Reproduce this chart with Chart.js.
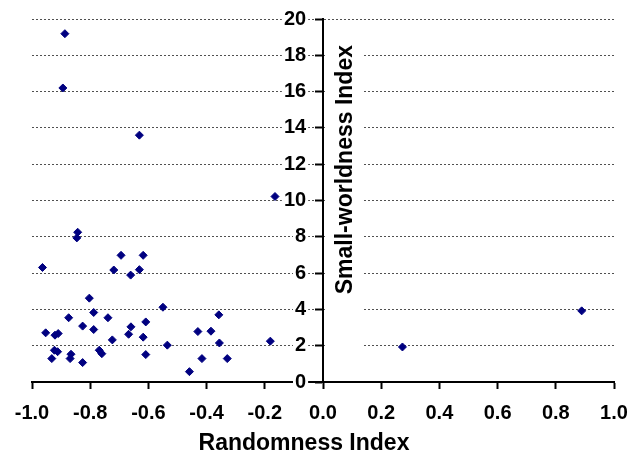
<!DOCTYPE html>
<html>
<head>
<meta charset="utf-8">
<script src="https://cdn.jsdelivr.net/npm/chart.js@4"></script>
<style>
  body { margin: 0; background: #fff; }
</style>
</head>
<body>
<canvas id="chart_smallWorld" width="641" height="454"></canvas>
<script>
// values
var randomnessIndex = [
    -0.887, -0.894, -0.631, -0.165, -0.843, -0.846, -0.964, -0.694, -0.719, -0.661,
    -0.631, -0.618, -0.803, -0.788, -0.874, -0.739, -0.550, -0.953, -0.921, -0.910,
    -0.826, -0.788, -0.660, -0.668, -0.609, -0.618, -0.724, -0.535, -0.923, -0.912,
    -0.932, -0.866, -0.869, -0.826, -0.769, -0.760, -0.609, -0.459, -0.430, -0.385,
    -0.416, -0.358, -0.356, -0.329, -0.181, 0.273, 0.889
];
var smallWorldnessIndex = [
    19.19, 16.20, 13.60, 10.22, 8.25, 7.94, 6.31, 6.98, 6.17, 5.89,
    6.19, 6.98, 4.62, 3.83, 3.54, 3.54, 4.12, 2.71, 2.58, 2.67,
    3.08, 2.89, 3.04, 2.63, 3.31, 2.47, 2.32, 2.03, 1.75, 1.67,
    1.29, 1.53, 1.29, 1.07, 1.75, 1.56, 1.51, 0.57, 2.78, 2.80,
    1.29, 3.70, 2.15, 1.29, 2.25, 1.93, 3.92
];
var xTitle = 'Randomness Index';
var yTitle = 'Small-worldness Index';

var points = randomnessIndex.map(function (v, i) {
    return { x: v, y: smallWorldnessIndex[i] };
});

Chart.defaults.font.family = "'Liberation Sans', Arial, sans-serif";
Chart.defaults.color = '#000';

var tickFont = { size: 20, weight: 'bold', lineHeight: 1.2 };

var chart_smallWorld = new Chart(document.getElementById('chart_smallWorld'), {
    type: 'scatter',
    data: {
        datasets: [
            {
                label: 'networks',
                data: points,
                pointStyle: 'rectRot',
                pointRadius: 4,
                pointBorderWidth: 1,
                backgroundColor: '#000080',
                borderColor: '#000080'
            }
        ]
    },
    options: {
        animation: false,
        responsive: false,
        layout: {
            padding: { left: 32, right: 27, top: 19, bottom: 17 }
        },
        plugins: {
            legend: { display: false },
            tooltip: { enabled: false }
        },
        scales: {
            x: {
                type: 'linear',
                position: 'bottom',
                min: -1,
                max: 1,
                border: { color: '#000', width: 2 },
                grid: {
                    drawOnChartArea: false,
                    tickLength: 7,
                    tickColor: '#000',
                    tickWidth: 2
                },
                ticks: {
                    stepSize: 0.2,
                    padding: 12,
                    maxRotation: 0,
                    font: tickFont,
                    callback: function (v) { return Number(v).toFixed(1); }
                }
            },
            // the axis itself: line, tick marks and the dotted gridlines
            y: {
                type: 'linear',
                position: { x: 0 },
                min: 0,
                max: 20,
                border: { color: '#000', width: 2, dash: [2, 2] },
                grid: {
                    color: function (c) { return c.tick && c.tick.value === 0 ? 'rgba(0,0,0,0)' : '#505050'; },
                    lineWidth: 1,
                    tickLength: 7,
                    tickColor: '#000',
                    tickWidth: 2,
                    tickBorderDash: []
                },
                ticks: { stepSize: 2, display: false }
            },
            // tick labels, set a little left of the axis
            yLabels: {
                type: 'linear',
                axis: 'y',
                position: { x: -0.058 },
                min: 0,
                max: 20,
                border: { display: false },
                grid: { display: false },
                ticks: {
                    stepSize: 2,
                    showLabelBackdrop: true,
                    backdropColor: '#fff',
                    backdropPadding: { top: 0, bottom: 0, left: 2, right: 2 },
                    font: tickFont
                }
            }
        }
    },
    plugins: [{
        id: 'axisTitles',
        beforeDatasetsDraw: function (chart) {
            var ctx = chart.ctx;
            var xs = chart.scales.x, ys = chart.scales.y;
            var x0 = xs.getPixelForValue(0);
            ctx.save();
            // white box behind the vertical title, gridlines stop there
            ctx.fillStyle = '#fff';
            ctx.fillRect(x0 + 2, ys.getPixelForValue(19), 37, ys.getPixelForValue(1) - ys.getPixelForValue(19));
            ctx.fillStyle = '#000';
            ctx.font = "bold 23px 'Liberation Sans', Arial, sans-serif";
            ctx.textAlign = 'center';
            ctx.textBaseline = 'alphabetic';
            ctx.save();
            ctx.translate(x0 + 29, ys.getPixelForValue(11.7));
            ctx.rotate(-Math.PI / 2);
            ctx.fillText(yTitle, 0, 0);
            ctx.restore();
            ctx.fillText(xTitle, (xs.left + xs.right) / 2 - 19, chart.height - 4);
            ctx.restore();
        }
    }]
});
</script>
</body>
</html>
